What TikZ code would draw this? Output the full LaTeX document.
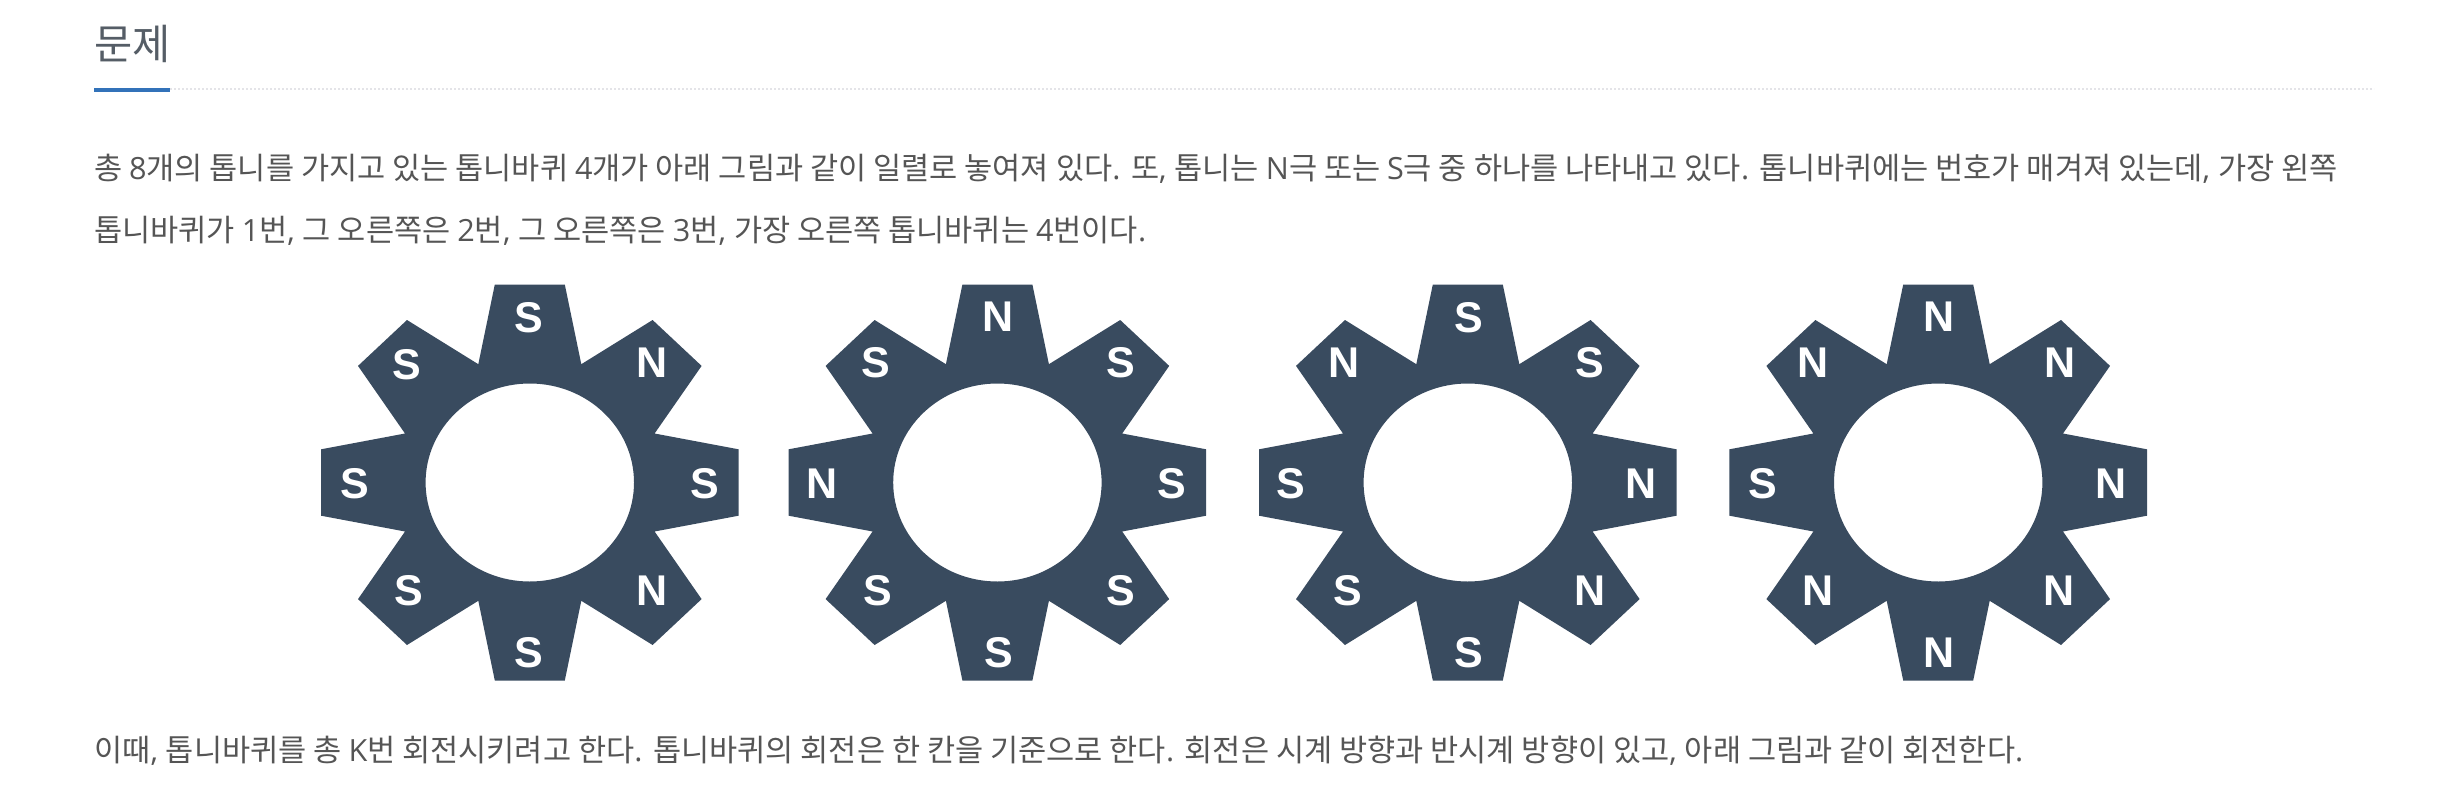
\documentclass[tikz,border=0pt]{standalone}
\usepackage{fontspec}
\setmainfont{Open Sans}
\newfontfamily\krfont{Noto Sans CJK KR}
\newfontfamily\polefont{Liberation Sans}
\definecolor{gearblue}{HTML}{394B5F}
\definecolor{bodygrey}{HTML}{555555}
\definecolor{headgrey}{HTML}{555D66}
\definecolor{ruleblue}{HTML}{3272B9}
\definecolor{dotgrey}{HTML}{E4E4E8}
% switch to the Korean face for Hangul, back to the Latin face otherwise
\newXeTeXintercharclass\hgclass
\newcount\hgc
\hgc="AC00
\loop\XeTeXcharclass\hgc=\hgclass\ifnum\hgc<"D7A3 \advance\hgc 1 \repeat
\XeTeXinterchartoks 4095 \hgclass={\krfont}
\XeTeXinterchartoks 0 \hgclass={\krfont}
\XeTeXinterchartoks \hgclass 0={\rmfamily}
\XeTeXinterchartoks 4095 0={\rmfamily}
\newcommand{\mixedon}{\XeTeXinterchartokenstate=1\relax}
\newcommand{\bodysize}{\mixedon\fontsize{30.6}{36}\selectfont}
\newcommand{\headsize}{\mixedon\fontsize{41.5}{48}\selectfont}
\tikzset{
  gearbody/.style={fill=gearblue,draw=none,even odd rule},
  pole/.style={text=white,font=\polefont\bfseries\fontsize{43}{43}\selectfont,inner sep=0pt},
  bodytext/.style={text=bodygrey,anchor=base west,inner sep=0pt,font=\bodysize},
  headtext/.style={text=headgrey,anchor=base west,inner sep=0pt,font=\headsize},
}
\newcommand{\gearat}[1]{%
  \fill[gearbody,shift={(#1,482.5)}]
    (-35,-198)--(35,-198)--(51.5,-118.3)--(122.8,-162.5)--(171.8,-116.6)--(124.8,-49)
    --(208.8,-33.2)--(208.8,33.2)--(124.8,49)--(171.8,116.6)--(122.8,162.5)--(51.5,118.3)
    --(35,198)--(-35,198)--(-51.5,118.3)--(-122.8,162.5)--(-171.8,116.6)--(-124.8,49)
    --(-208.8,33.2)--(-208.8,-33.2)--(-124.8,-49)--(-171.8,-116.6)--(-122.8,-162.5)--(-51.5,-118.3)
    --cycle
    (0,0) ellipse [x radius=104.2,y radius=99];
}
\begin{document}
\begin{tikzpicture}[x=1pt,y=-1pt]
\useasboundingbox (0,0) rectangle (2444,798);
\node[headtext] (title) at (94,59) {문제};
\coordinate (ruleA) at (94,90);
\coordinate (ruleB) at (170,90);
\coordinate (ruleC) at (2374,89);
\draw[dotgrey,line width=2pt,dash pattern=on 2pt off 2pt] (170,89) -- (ruleC);
\draw[ruleblue,line width=4pt] (ruleA) -- (ruleB);
\node[bodytext] (lineone) at (94,179) {총 8개의 톱니를 가지고 있는 톱니바퀴 4개가 아래 그림과 같이 일렬로 놓여져 있다. 또, 톱니는 N극 또는 S극 중 하나를 나타내고 있다. 톱니바퀴에는 번호가 매겨져 있는데, 가장 왼쪽};
\node[bodytext] (linetwo) at (94,241) {톱니바퀴가 1번, 그 오른쪽은 2번, 그 오른쪽은 3번, 가장 오른쪽 톱니바퀴는 4번이다.};
\node[bodytext] (linethree) at (94,761) {이때, 톱니바퀴를 총 K번 회전시키려고 한다. 톱니바퀴의 회전은 한 칸을 기준으로 한다. 회전은 시계 방향과 반시계 방향이 있고, 아래 그림과 같이 회전한다.};
\gearat{529.8}
\gearat{997.4}
\gearat{1467.8}
\gearat{1938.2}
\begin{scope}[shift={(300.5,270)}]
\foreach \n/\zx/\zy/\t in {a/686/143/S,b/1056/277/N,c/1213/642/S,d/1056/963/N,e/686/1147/S,f/325/962/S,g/164/642/S,h/318/283/S}
  \node[pole] (one\n) at (\zx/3,\zy/3) {\t};
\end{scope}
\begin{scope}[shift={(770.5,270)}]
\foreach \n/\zx/\zy/\t in {a/684/140/N,b/1050/278/S,c/1203/642/S,d/1050/962/S,e/686/1147/S,f/323/962/S,g/155/642/N,h/315/278/S}
  \node[pole] (two\n) at (\zx/3,\zy/3) {\t};
\end{scope}
\begin{scope}[shift={(1240.5,270)}]
\foreach \n/\zx/\zy/\t in {a/686/143/S,b/1048/278/S,c/1202/642/N,d/1049/963/N,e/686/1147/S,f/323/962/S,g/152/642/S,h/312/277/N}
  \node[pole] (three\n) at (\zx/3,\zy/3) {\t};
\end{scope}
\begin{scope}[shift={(1710.5,270)}]
\foreach \n/\zx/\zy/\t in {a/687/140/N,b/1050/277/N,c/1203/642/N,d/1045/963/N,e/687/1147/N,f/323/962/N,g/158/642/S,h/308/277/N}
  \node[pole] (four\n) at (\zx/3,\zy/3) {\t};
\end{scope}
\end{tikzpicture}
\end{document}
